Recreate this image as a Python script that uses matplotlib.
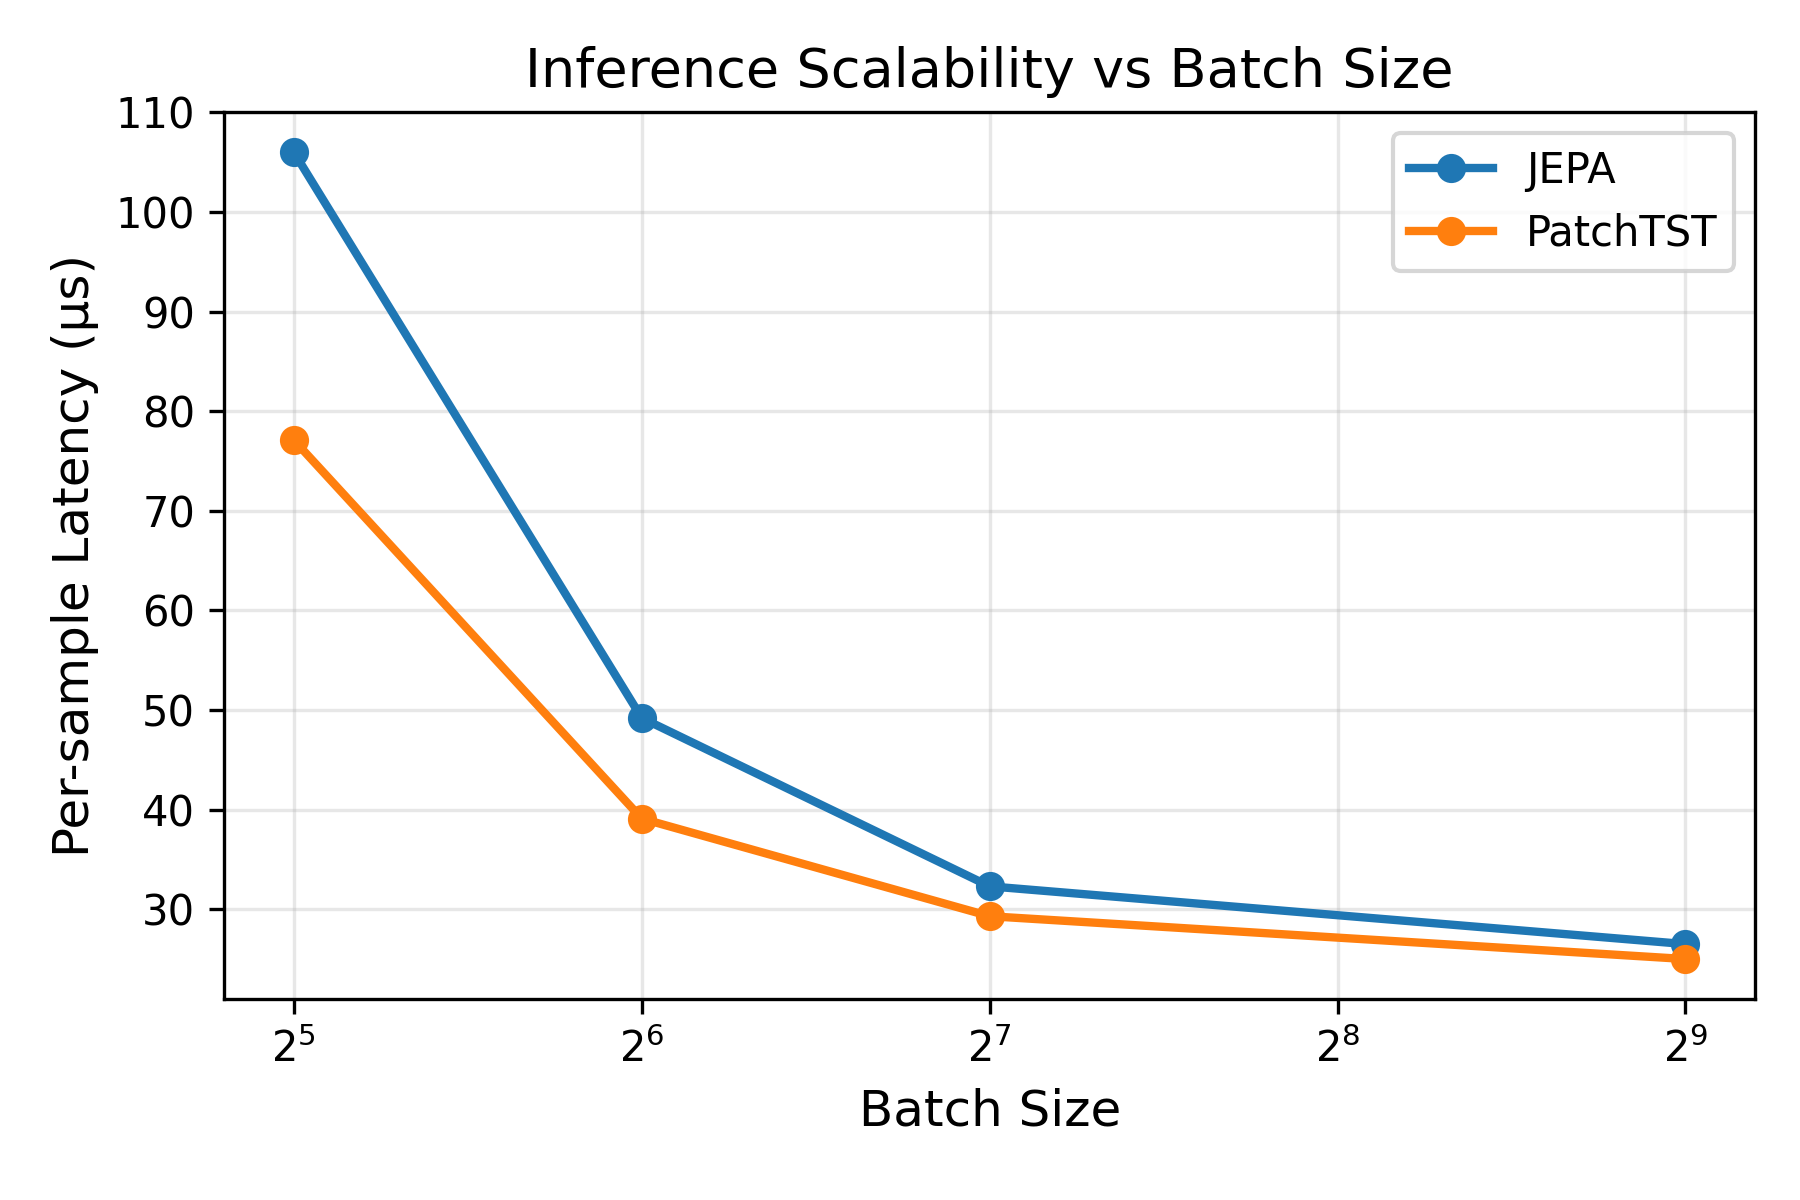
import matplotlib
matplotlib.use("Agg")
import matplotlib.pyplot as plt

batch_sizes = [32, 64, 128, 512]
jepa_latency = [106.0, 49.2, 32.3, 26.5]
patchtst_latency = [77.1, 39.1, 29.3, 25.0]

fig, ax = plt.subplots(figsize=(6, 4))

ax.plot(batch_sizes, jepa_latency, marker="o", linewidth=2, markersize=6, label="JEPA")
ax.plot(batch_sizes, patchtst_latency, marker="o", linewidth=2, markersize=6, label="PatchTST")

ax.set_xscale("log", base=2)
ax.set_xlabel("Batch Size", fontsize=12)
ax.set_ylabel("Per-sample Latency (µs)", fontsize=12)
ax.set_title("Inference Scalability vs Batch Size", fontsize=13)
ax.set_yticks(range(30, 111, 10))
ax.grid(True, alpha=0.3)
ax.legend()

plt.tight_layout()
plt.savefig("out.png", dpi=300)
plt.close()
